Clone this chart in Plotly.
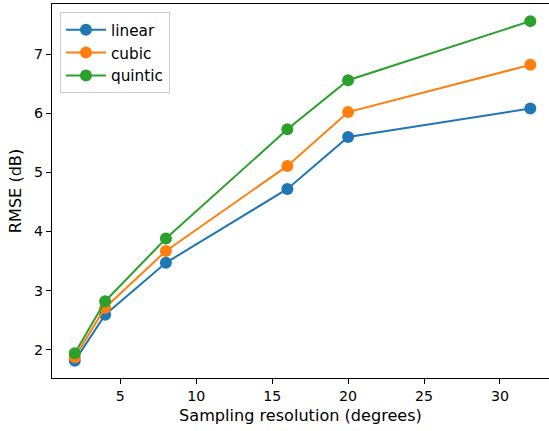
import plotly.graph_objects as go

x_vals = [2, 4, 8, 16, 20, 32]
linear = [1.81, 2.59, 3.47, 4.72, 5.60, 6.08]
cubic = [1.87, 2.71, 3.67, 5.11, 6.02, 6.82]
quintic = [1.94, 2.82, 3.88, 5.73, 6.56, 7.56]
series_names = ["linear", "cubic", "quintic"]
colors = ["#1f77b4", "#ff7f0e", "#2ca02c"]

fig = go.Figure()
for name, vals, c in zip(series_names, [linear, cubic, quintic], colors):
    fig.add_trace(go.Scatter(x=x_vals, y=vals, mode="lines+markers", name=name,
                             line=dict(color=c, width=2),
                             marker=dict(color=c, size=12)))

axis_font = dict(family="DejaVu Sans", size=14.2, color="black")
title_font = dict(family="DejaVu Sans", size=16.1, color="black")
fig.update_layout(
    width=549, height=431,
    margin=dict(l=52, r=0, t=4, b=53),
    plot_bgcolor="white", paper_bgcolor="white",
    font=axis_font,
    showlegend=True,
    legend=dict(x=0.016, y=0.978, xanchor="left", yanchor="top",
                bgcolor="rgba(255,255,255,0.8)", bordercolor="#cccccc", borderwidth=1,
                font=dict(family="DejaVu Sans", size=15.3, color="black"),
                itemwidth=40, tracegroupgap=0),
)
fig.update_xaxes(range=[0.5, 33.23], tickvals=[5, 10, 15, 20, 25, 30],
                 showline=True, linecolor="black", linewidth=1.2, mirror=True,
                 ticks="outside", ticklen=5, tickcolor="black", showgrid=False, zeroline=False,
                 title=dict(text="Sampling resolution (degrees)", standoff=6, font=title_font),
                 tickfont=axis_font)
fig.update_yaxes(range=[1.52, 7.85], tickvals=[2, 3, 4, 5, 6, 7],
                 showline=True, linecolor="black", linewidth=1.2, mirror=False,
                 ticks="outside", ticklen=5, tickcolor="black", showgrid=False, zeroline=False,
                 title=dict(text="RMSE (dB)", standoff=8, font=title_font),
                 tickfont=axis_font)

fig.write_html("out.html")
